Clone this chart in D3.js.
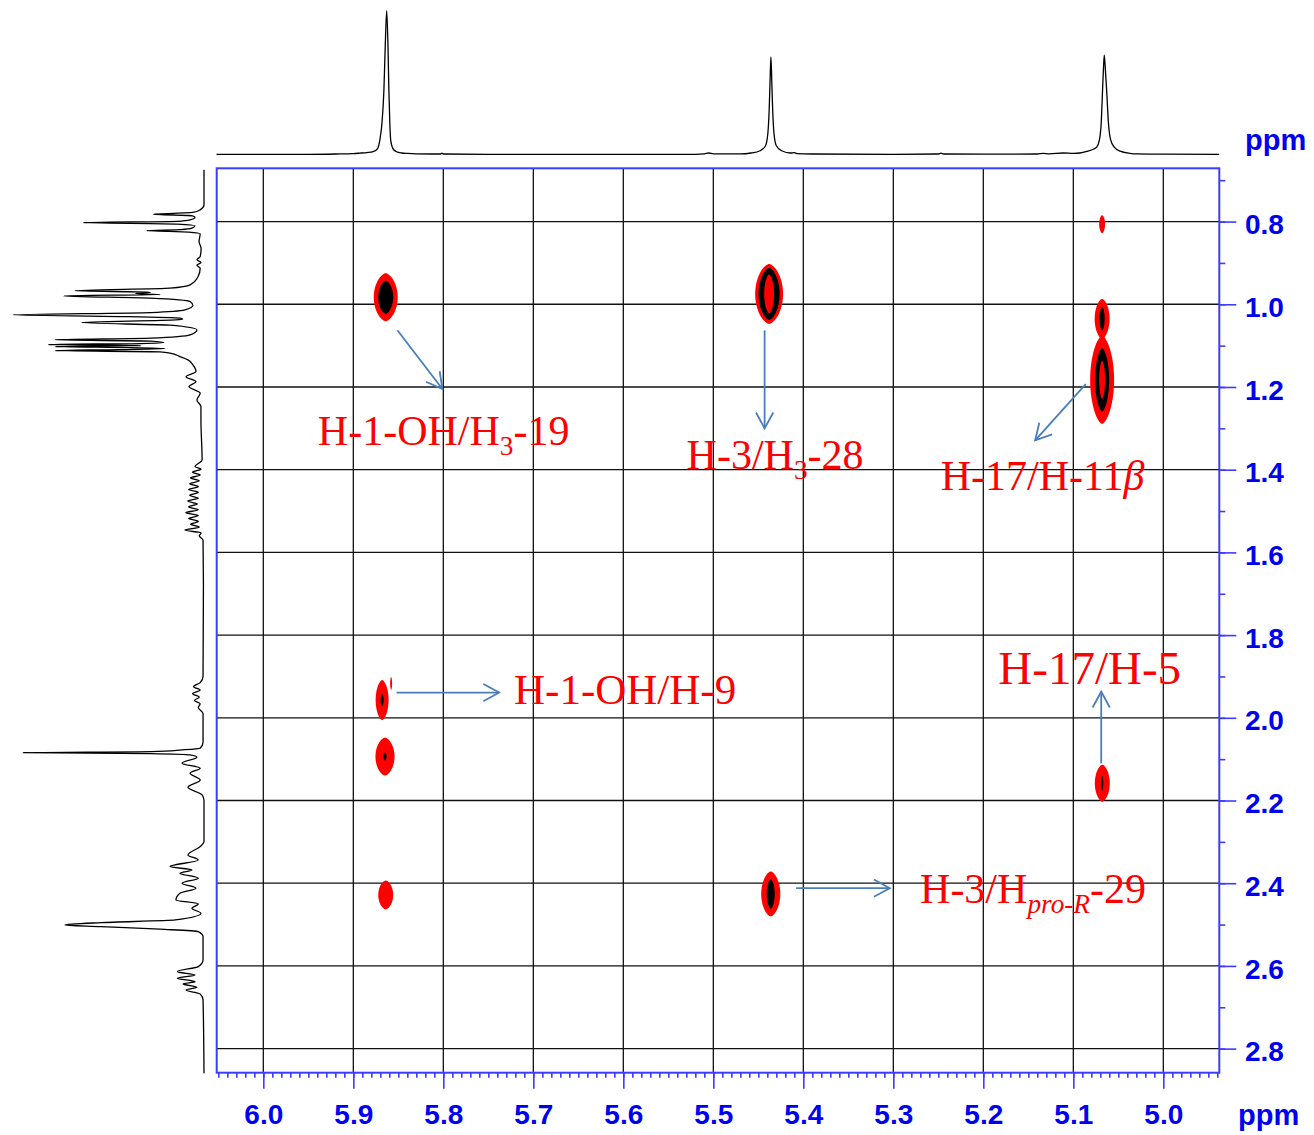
<!DOCTYPE html>
<html><head><meta charset="utf-8">
<script src="https://cdn.jsdelivr.net/npm/d3@7"></script>
<style>body{margin:0;background:#fff}svg{display:block}</style>
</head><body>
<svg id="chart" width="1314" height="1135"></svg>
<script>
// ---------- DATA ----------
const xTickValues = [6.0, 5.9, 5.8, 5.7, 5.6, 5.5, 5.4, 5.3, 5.2, 5.1, 5.0];
const yTickValues = [0.8, 1.0, 1.2, 1.4, 1.6, 1.8, 2.0, 2.2, 2.4, 2.6, 2.8];
const xDomain = [6.0518, 4.9378];
const yDomain = [0.6712, 2.8582];
const axisUnit = "ppm";

// 1D projection (F2, top): [ppm, relative intensity]
const topSpectrum = [
  [6.052,0],[5.95,0],[5.92,0.2],[5.90,0.5],[5.893,0.8],[5.885,1.2],[5.878,1.8],[5.873,4],
  [5.8705,10],[5.868,23],[5.866,45],[5.8645,76],[5.8629,100],[5.8615,76],[5.8605,45],
  [5.8595,23],[5.8585,10],[5.856,4],[5.852,1.8],[5.846,0.9],[5.84,0.6],[5.83,0.3],[5.81,0.2],
  [5.803,0.2],[5.8015,0.8],[5.8,0.2],[5.75,0],[5.52,0],[5.51,0.3],[5.505,0.9],[5.5,0.3],
  [5.47,0.3],[5.458,0.9],[5.448,2.5],[5.442,6],[5.4395,14],[5.438,30],[5.437,50],[5.436,67.8],
  [5.435,50],[5.434,30],[5.4325,14],[5.43,6],[5.424,2.5],[5.414,0.9],[5.41,1.2],[5.407,0.5],
  [5.39,0.2],[5.3,0],[5.25,0.2],[5.247,0.8],[5.244,0.2],[5.2,0.1],[5.14,0.2],[5.1333,0.7],
  [5.127,0.3],[5.111,0.9],[5.1,0.6],[5.0926,0.9],[5.085,2],[5.078,3.5],[5.074,5],[5.071,10],
  [5.069,22],[5.0675,45],[5.0665,60],[5.0656,69],[5.0645,60],[5.063,45],[5.061,22],[5.0585,10],
  [5.0545,5],[5.048,2.2],[5.037,0.7],[5.03,0.3],[5.0,0.1],[4.938,0]
];

// 1D projection (F1, left): [ppm, relative intensity]
const leftSpectrum = [
  [0.675,0],[0.76,0],[0.7717,2],[0.778,6],[0.7822,26.5],[0.786,6],[0.7894,4.7],[0.7959,7.3],
  [0.7995,14],[0.8024,63.2],[0.806,14],[0.8104,4.7],[0.816,6.3],[0.8195,12],[0.8218,30],
  [0.8255,8],[0.8297,2],[0.848,2.6],[0.865,1.5],[0.8846,2],[0.8926,3.7],[0.899,1.6],
  [0.9055,3.7],[0.9127,2],[0.933,3.1],[0.953,7.3],[0.961,17.8],[0.9676,67.5],[0.9707,28],
  [0.974,36],[0.9765,23],[0.9797,73.6],[0.9852,28],[0.9935,7.3],[1.003,5.8],[1.0135,10],
  [1.02,28],[1.0256,100],[1.0297,44],[1.0336,12.6],[1.0355,11.2],[1.0377,14.7],[1.0443,64],
  [1.0506,17.8],[1.062,3.7],[1.074,7.3],[1.082,28],[1.086,78],[1.089,28],[1.0926,21],
  [1.095,33],[1.0975,81.5],[1.1,33],[1.1023,78],[1.1047,38],[1.107,20.4],[1.1095,44],
  [1.112,78],[1.115,23],[1.118,17.8],[1.1265,12.6],[1.1345,8.4],[1.1466,5.8],[1.1628,4.2],
  [1.175,9.4],[1.187,4.2],[1.199,7.9],[1.215,2],[1.2312,3.7],[1.2474,1.6],[1.2796,1.6],
  [1.3763,1],[1.3925,4.7],[1.399,1.5],[1.406,6],[1.413,2],[1.42,7],[1.427,2.5],[1.434,7.5],
  [1.441,3],[1.448,8],[1.455,3],[1.462,7.5],[1.469,3],[1.476,8.5],[1.483,3.5],[1.49,8],
  [1.497,3],[1.504,9.5],[1.511,3],[1.518,8],[1.525,3],[1.532,7],[1.539,2.5],[1.546,10],
  [1.553,1.5],[1.56,2.5],[1.57,0.5],[1.68,0.3],[1.9,0.5],[1.915,2],[1.925,5.5],[1.933,2],
  [1.942,6],[1.95,2.5],[1.958,5],[1.966,2],[1.975,3],[1.99,0.5],[2.06,0.5],[2.0735,2],
  [2.0776,11.5],[2.0817,28],[2.0841,94.6],[2.0865,28],[2.0897,7.3],[2.0953,3.7],[2.1098,11.5],
  [2.1219,2],[2.134,7.3],[2.1502,2],[2.1678,8.4],[2.1864,1],[2.2,0],[2.3,0],[2.3115,2],
  [2.3316,8.4],[2.3437,3],[2.3598,17.8],[2.3678,6.3],[2.3758,12.6],[2.3879,3],[2.4,11.5],
  [2.4121,4.2],[2.4242,12.6],[2.4404,14.7],[2.45,3],[2.4605,6.3],[2.4726,1.6],[2.4888,15],
  [2.4953,54],[2.5008,72.8],[2.5049,54],[2.5112,23],[2.517,3],[2.5291,0.5],[2.5855,0.5],
  [2.6017,3],[2.6138,14],[2.6218,4.7],[2.6298,14],[2.638,4.7],[2.6435,11],[2.6515,3.7],
  [2.658,9.4],[2.6677,2],[2.6822,0.5],[2.8595,0]
];

// Cross peaks: [F2 ppm, F1 ppm, contour levels [half-width ppm F2, half-width ppm F1]]
const crossPeaks = [
  [5.864, 0.983, [[0.0133,0.058],[0.0083,0.040]]],
  [5.438, 0.975, [[0.0155,0.0725],[0.0117,0.063],[0.0055,0.047]]],
  [5.068, 0.8063, [[0.0033,0.0218]]],
  [5.068, 1.0353, [[0.0083,0.0484],[0.0028,0.0283]]],
  [5.068, 1.1828, [[0.0133,0.1064],[0.0078,0.0767],[0.0033,0.046]]],
  [5.868, 1.957, [[0.0072,0.0484],[0.0017,0.0145]]],
  [5.858, 1.9168, [[0.0011,0.0157]]],
  [5.8648, 2.0938, [[0.0106,0.046],[0.0017,0.0097]]],
  [5.864, 2.4283, [[0.0083,0.035]]],
  [5.4362, 2.4259, [[0.0106,0.0544],[0.0044,0.036]]],
  [5.0678, 2.1582, [[0.0083,0.0447],[0.0011,0.018]]]
];

// Annotation arrows: [x1, y1, x2, y2] in ppm
const arrows = [
  [5.851, 1.063, 5.801, 1.205],
  [5.443, 1.063, 5.443, 1.300],
  [5.0862, 1.193, 5.1424, 1.329],
  [5.852, 1.939, 5.738, 1.939],
  [5.069, 2.110, 5.069, 1.937],
  [5.408, 2.412, 5.304, 2.412]
];

// Labels: parts [text, kind] ; anchor (left, baseline) in ppm
const labelTexts = [
  [["H-1-OH/H","n"],["3","sub"],["-19","n"]],
  [["H-3/H","n"],["3","sub"],["-28","n"]],
  [["H-17/H-11","n"],["β","it"]],
  [["H-1-OH/H-9","n"]],
  [["H-17/H-5","n"]],
  [["H-3/H","n"],["pro-R","subit"],["-29","n"]]
];
const labelAnchors = [
  [5.9394, 1.340],
  [5.5297, 1.3988],
  [5.2473, 1.4489],
  [5.7214, 1.9664],
  [5.1833, 1.9188],
  [5.2703, 2.4484]
];
const labelSizes = [42, 42, 42, 43, 47, 42];

// ---------- DRAW ----------
const svg = d3.select("#chart");
const L = 216.7, R = 1219.3, T = 168.3, B = 1072.7;
const x = d3.scaleLinear().domain(xDomain).range([L, R]);
const y = d3.scaleLinear().domain(yDomain).range([T, B]);
const topI = d3.scaleLinear().domain([0, 100]).range([154.3, 10.7]);
const leftI = d3.scaleLinear().domain([0, 100]).range([204, 13]);

const axisBlue = "#3c3cff";
const labelBlue = "#0000f0";

// grid
const grid = svg.append("g").attr("stroke", "#111").attr("stroke-width", 1.3);
grid.selectAll("line.v").data(xTickValues).join("line")
  .attr("x1", d => x(d)).attr("x2", d => x(d)).attr("y1", T).attr("y2", B);
grid.selectAll("line.h").data(yTickValues).join("line")
  .attr("x1", L).attr("x2", R).attr("y1", d => y(d)).attr("y2", d => y(d));

// cross peaks (lens-like contour outlines, pointed along F1)
const levelColors = ["#ff0000", "#000000", "#ff0000"];
const cp = svg.append("g");
const angles = d3.range(0, 72).map(i => i / 72 * 2 * Math.PI);
const contourLine = d3.line().curve(d3.curveLinearClosed);
crossPeaks.forEach(([px, py, levels]) => {
  levels.forEach(([dx, dy], i) => {
    const cx = x(px), cy = y(py);
    const rx = Math.abs(x(px + dx) - cx), ry = Math.abs(y(py + dy) - cy);
    const pts = angles.map(t => {
      const c = Math.cos(t);
      return [cx + rx * Math.sign(c) * Math.pow(Math.abs(c), 1.25), cy + ry * Math.sin(t)];
    });
    cp.append("path").attr("d", contourLine(pts)).attr("fill", levelColors[i]);
  });
});

// frame
svg.append("rect").attr("x", L).attr("y", T).attr("width", R - L).attr("height", B - T)
  .attr("fill", "none").attr("stroke", axisBlue).attr("stroke-width", 2);

// bottom axis: minor ticks
const minorX = d3.range(0, 112).map(i => +(4.94 + i * 0.01).toFixed(2)).filter(v => v <= 6.05);
const gxm = svg.append("g").attr("transform", `translate(0,${B})`)
  .call(d3.axisBottom(x).tickValues(minorX).tickSize(5).tickFormat(""));
const gx = svg.append("g").attr("transform", `translate(0,${B})`)
  .call(d3.axisBottom(x).tickValues(xTickValues).tickSize(16).tickFormat(d3.format(".1f")));
// right axis
const minorY = d3.range(7, 29).map(i => +(i * 0.1).toFixed(1));
const gym = svg.append("g").attr("transform", `translate(${R},0)`)
  .call(d3.axisRight(y).tickValues(minorY).tickSize(6).tickFormat(""));
const gy = svg.append("g").attr("transform", `translate(${R},0)`)
  .call(d3.axisRight(y).tickValues(yTickValues).tickSize(17).tickFormat(d3.format(".1f")));

[gxm, gx, gym, gy].forEach(g => {
  g.select(".domain").remove();
  g.selectAll(".tick line").attr("stroke", axisBlue).attr("stroke-width", 1.6);
  g.selectAll("text").attr("fill", labelBlue).attr("font-family", "Liberation Sans, Arial, sans-serif")
    .attr("font-weight", "bold").attr("font-size", 28);
});
gx.selectAll("text").attr("y", 51.5).attr("dy", 0);
gy.selectAll("text").attr("x", 25.7).attr("dy", "0.36em").attr("y", 2);

svg.append("text").attr("x", 1245).attr("y", 150).text(axisUnit)
  .attr("fill", labelBlue).attr("font-family", "Liberation Sans, Arial, sans-serif")
  .attr("font-weight", "bold").attr("font-size", 29);
svg.append("text").attr("x", 1238).attr("y", 1125).text(axisUnit)
  .attr("fill", labelBlue).attr("font-family", "Liberation Sans, Arial, sans-serif")
  .attr("font-weight", "bold").attr("font-size", 29);

// 1D spectra
svg.append("path").datum(topSpectrum)
  .attr("d", d3.line().curve(d3.curveMonotoneX).x(d => x(d[0])).y(d => topI(d[1])))
  .attr("fill", "none").attr("stroke", "#000").attr("stroke-width", 1.3);
svg.append("path").datum(leftSpectrum)
  .attr("d", d3.line().curve(d3.curveMonotoneY).x(d => leftI(d[1])).y(d => y(d[0])))
  .attr("fill", "none").attr("stroke", "#000").attr("stroke-width", 1.3);

// arrows
const arrowColor = "#4a7ebb";
const ag = svg.append("g").attr("stroke", arrowColor).attr("stroke-width", 1.8).attr("fill", "none");
arrows.forEach(([a, b, c, d]) => {
  const x1 = x(a), y1 = y(b), x2 = x(c), y2 = y(d);
  ag.append("line").attr("x1", x1).attr("y1", y1).attr("x2", x2).attr("y2", y2);
  const ang = Math.atan2(y2 - y1, x2 - x1);
  const len = 18, half = 0.5;
  const p1 = [x2 - len * Math.cos(ang - half), y2 - len * Math.sin(ang - half)];
  const p2 = [x2 - len * Math.cos(ang + half), y2 - len * Math.sin(ang + half)];
  ag.append("polyline").attr("points", `${p1} ${x2},${y2} ${p2}`);
});

// labels
labelTexts.forEach((parts, i) => {
  const fs = labelSizes[i];
  const t = svg.append("text")
    .attr("x", x(labelAnchors[i][0])).attr("y", y(labelAnchors[i][1]))
    .attr("font-family", "Liberation Serif, Times New Roman, serif")
    .attr("font-size", fs).attr("fill", "#ff0000");
  let shifted = 0;
  parts.forEach(([txt, kind]) => {
    const s = t.append("tspan").text(txt);
    if (kind === "sub" || kind === "subit") {
      s.attr("font-size", fs * 0.65).attr("dy", 10 - shifted);
      shifted = 10;
      if (kind === "subit") s.attr("font-style", "italic");
    } else {
      if (shifted) { s.attr("dy", -shifted); shifted = 0; }
      if (kind === "it") s.attr("font-style", "italic");
    }
  });
});
</script>
</body></html>
